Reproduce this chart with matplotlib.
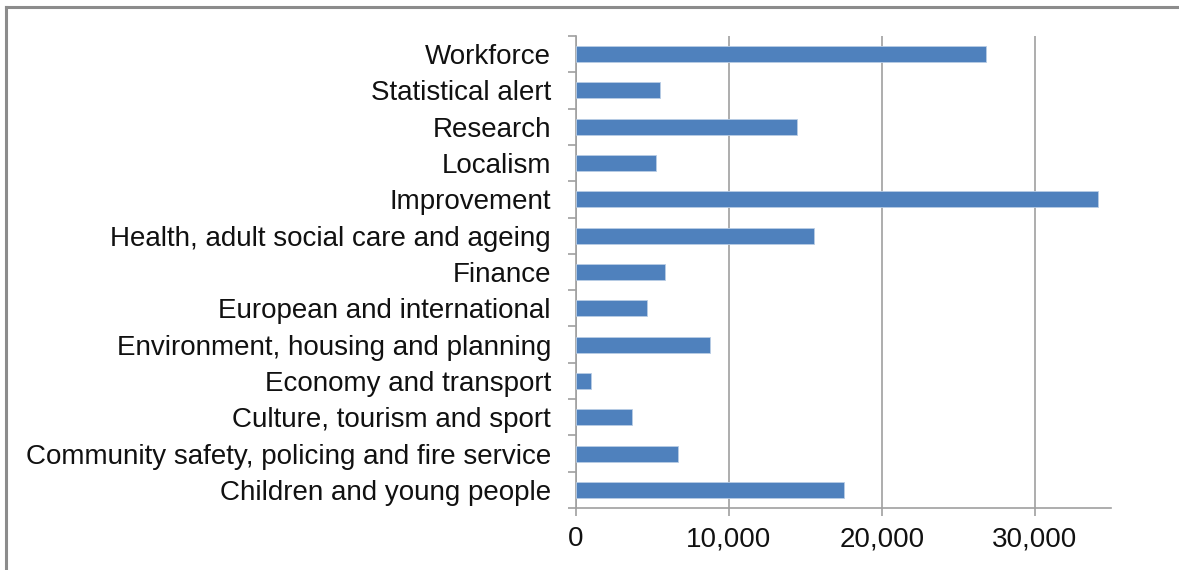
import matplotlib
matplotlib.use("Agg")
import numpy as np
from matplotlib import pyplot as plt
from matplotlib.lines import Line2D
from matplotlib.ticker import FuncFormatter, MultipleLocator

# bottom-to-top order, as the bars are stacked on the chart
categories = [
    "Children and young people",
    "Community safety, policing and fire service",
    "Culture, tourism and sport",
    "Economy and transport",
    "Environment, housing and planning",
    "European and international",
    "Finance",
    "Health, adult social care and ageing",
    "Improvement",
    "Localism",
    "Research",
    "Statistical alert",
    "Workforce",
]
values = [17550, 6700, 3660, 990, 8790, 4630, 5840, 15530, 34100, 5240, 14420, 5500, 26800]

plt.rcParams['font.family'] = ['Liberation Sans', 'DejaVu Sans']

fig = plt.figure(figsize=(11.79, 5.70), dpi=100)
ax = fig.add_axes([0.4885, 0.1088, 0.4542, 0.828])

grey = "#a0a0a0"
y = np.arange(len(categories))
ax.barh(y, values, height=0.44, color="#4f81bd", edgecolor="#b9cde5", linewidth=0.6, zorder=3)

ax.set_xlim(0, 35000)
ax.set_ylim(-0.5, len(categories) - 0.5)
ax.xaxis.set_major_locator(MultipleLocator(10000))
ax.xaxis.set_major_formatter(FuncFormatter(lambda v, p: f"{int(v):,}"))
ax.grid(axis="x", color=grey, linewidth=1.2, zorder=0)

ax.set_yticks(y)
ax.set_yticklabels(categories)
ax.set_yticks(np.arange(-0.5, len(categories)), minor=True)
ax.tick_params(axis="y", which="major", length=0, pad=18, labelsize=20, labelcolor="#111111")
ax.tick_params(axis="y", which="minor", length=6, width=1.2, color=grey)
ax.tick_params(axis="x", length=6, width=1.2, color=grey, labelsize=20, labelcolor="#111111", pad=7)

for side in ("top", "right"):
    ax.spines[side].set_visible(False)
for side in ("left", "bottom"):
    ax.spines[side].set_color(grey)
    ax.spines[side].set_linewidth(1.2)

# chart frame running off the right and bottom edges
fig.add_artist(Line2D([6 / 1179, 1.0], [1 - 7 / 570, 1 - 7 / 570], color="#8c8c8c", linewidth=2.2, transform=fig.transFigure))
fig.add_artist(Line2D([6 / 1179, 6 / 1179], [0.0, 1 - 7 / 570], color="#8c8c8c", linewidth=2.2, transform=fig.transFigure))

fig.savefig("out.png", dpi=100)
